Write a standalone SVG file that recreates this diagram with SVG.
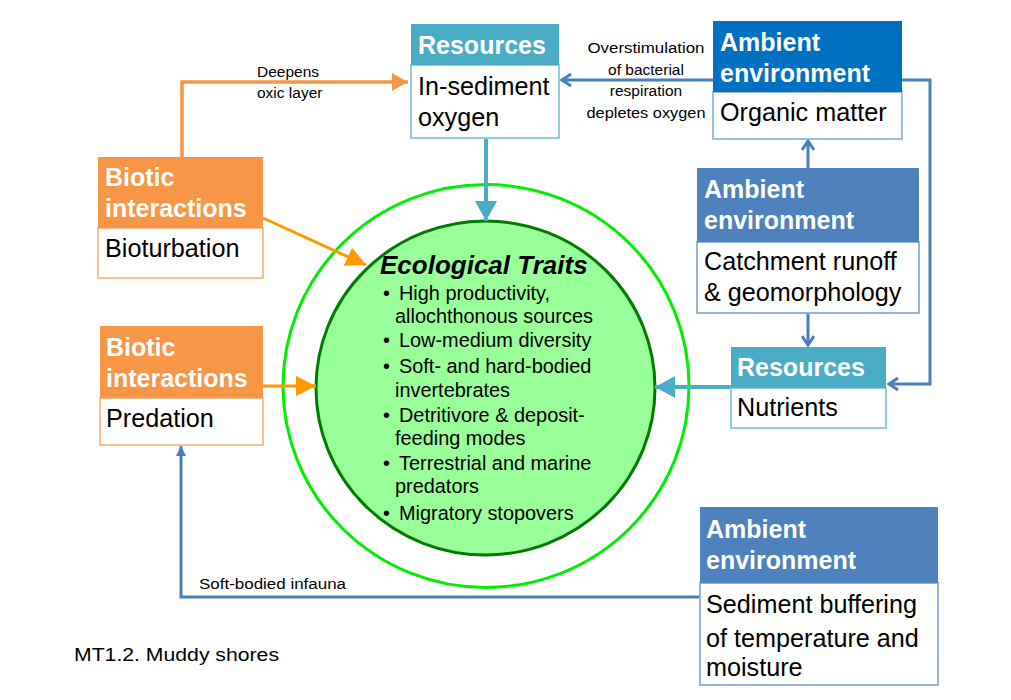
<svg xmlns="http://www.w3.org/2000/svg" width="1011" height="700" viewBox="0 0 1011 700">
<style>
.hd{font-family:"Liberation Sans",Arial,sans-serif;font-weight:bold;font-size:25px;fill:#fff}
.bd{font-family:"Liberation Sans",Arial,sans-serif;font-size:25.2px;fill:#000}
.lb{font-family:"Liberation Sans",Arial,sans-serif;font-size:15.5px;fill:#000}
.tr{font-family:"Liberation Sans",Arial,sans-serif;font-size:19.9px;fill:#000}
.blue{stroke:#4a7ebb;stroke-width:3;fill:none}
.or1{stroke:#f79646;stroke-width:3.5;fill:none}
.or2{stroke:#ff9900;stroke-width:3;fill:none}
.teal{stroke:#4bacc6;stroke-width:4;fill:none}
</style>
<defs>
<marker id="chev" markerWidth="12" markerHeight="14" refX="10" refY="7" orient="auto" markerUnits="userSpaceOnUse">
<path d="M1,1 L10,7 L1,13" fill="none" stroke="#4a7ebb" stroke-width="3"/>
</marker>
<marker id="triO1" markerWidth="16" markerHeight="18" refX="16" refY="9" orient="auto" markerUnits="userSpaceOnUse">
<path d="M0,0 L16,9 L0,18 Z" fill="#f79646"/>
</marker>
<marker id="triO2" markerWidth="20" markerHeight="20" refX="20" refY="10" orient="auto" markerUnits="userSpaceOnUse">
<path d="M0,0 L20,10 L0,20 Z" fill="#ff9900"/>
</marker>
<marker id="triT" markerWidth="20" markerHeight="22" refX="20" refY="11" orient="auto" markerUnits="userSpaceOnUse">
<path d="M0,0 L20,11 L0,22 Z" fill="#4bacc6"/>
</marker>
<marker id="triB" markerWidth="10" markerHeight="10" refX="10" refY="5" orient="auto" markerUnits="userSpaceOnUse">
<path d="M0,0 L10,5 L0,10 Z" fill="#4a7ebb"/>
</marker>
</defs>
<rect width="1011" height="700" fill="#fff"/>

<g id="circles">
<ellipse cx="486" cy="386" rx="203" ry="201.5" fill="none" stroke="#00ee00" stroke-width="3"/>
<ellipse cx="485.5" cy="388" rx="169.5" ry="167" fill="#99ff99" stroke="#007a00" stroke-width="3"/>
</g>

<g id="connectors">
<path class="or1" d="M182,157 V82 H408" marker-end="url(#triO1)"/>
<path class="or2" d="M263,218 L366,265" marker-end="url(#triO2)"/>
<path class="or2" d="M263,386 L316,386" marker-end="url(#triO2)"/>
<path class="blue" d="M713,80 L562,80" marker-end="url(#chev)"/>
<path class="blue" d="M902,80 H930 V384 H889" marker-end="url(#chev)"/>
<path class="blue" d="M808,168 V141" marker-end="url(#chev)"/>
<path class="blue" d="M808,313 V345" marker-end="url(#chev)"/>
<path class="teal" d="M486,138 V221" marker-end="url(#triT)"/>
<path class="teal" d="M731,387 H655" marker-end="url(#triT)"/>
<path class="blue" d="M700,597 H181 V446" marker-end="url(#triB)"/>
</g>

<g id="res-oxygen">
<rect x="411" y="65" width="148" height="73" fill="#fff" stroke="#93cddd" stroke-width="2"/>
<rect x="411" y="24" width="148" height="41" fill="#4bacc6"/>
<text class="hd" x="418" y="54">Resources</text>
<text class="bd" x="418" y="95">In-sediment</text>
<text class="bd" x="418" y="126">oxygen</text>
</g>

<g id="amb-organic">
<rect x="713" y="92" width="189" height="47" fill="#fff" stroke="#9bbfd9" stroke-width="2"/>
<rect x="713" y="21" width="189" height="71" fill="#0070c0"/>
<text class="hd" x="720" y="51">Ambient</text>
<text class="hd" x="720" y="82">environment</text>
<text class="bd" x="720" y="121">Organic matter</text>
</g>

<g id="bio-bioturbation">
<rect x="98" y="228" width="165" height="50" fill="#fff" stroke="#fac090" stroke-width="2"/>
<rect x="98" y="157" width="165" height="71" fill="#f79646"/>
<text class="hd" x="105" y="186">Biotic</text>
<text class="hd" x="105" y="217">interactions</text>
<text class="bd" x="105" y="257">Bioturbation</text>
</g>

<g id="amb-catchment">
<rect x="697" y="242" width="222" height="71" fill="#fff" stroke="#95b3d7" stroke-width="2"/>
<rect x="697" y="168" width="222" height="74" fill="#4f81bd"/>
<text class="hd" x="704" y="198">Ambient</text>
<text class="hd" x="704" y="229">environment</text>
<text class="bd" x="704" y="270">Catchment runoff</text>
<text class="bd" x="704" y="301">&amp; geomorphology</text>
</g>

<g id="res-nutrients">
<rect x="731" y="388" width="155" height="40" fill="#fff" stroke="#93cddd" stroke-width="2"/>
<rect x="731" y="347" width="155" height="41" fill="#4bacc6"/>
<text class="hd" x="737" y="376">Resources</text>
<text class="bd" x="737" y="416">Nutrients</text>
</g>

<g id="bio-predation">
<rect x="100" y="398" width="163" height="47" fill="#fff" stroke="#fac090" stroke-width="2"/>
<rect x="100" y="326" width="163" height="72" fill="#f79646"/>
<text class="hd" x="106" y="356">Biotic</text>
<text class="hd" x="106" y="387">interactions</text>
<text class="bd" x="106" y="427">Predation</text>
</g>

<g id="amb-sediment">
<rect x="700" y="583" width="238" height="102" fill="#fff" stroke="#95b3d7" stroke-width="2"/>
<rect x="700" y="507" width="238" height="76" fill="#4f81bd"/>
<text class="hd" x="706" y="538">Ambient</text>
<text class="hd" x="706" y="569">environment</text>
<text class="bd" x="706" y="613">Sediment buffering</text>
<text class="bd" x="706" y="647">of temperature and</text>
<text class="bd" x="706" y="676">moisture</text>
</g>

<g id="traits">
<text x="380" y="274" font-family="Liberation Sans, Arial, sans-serif" font-weight="bold" font-style="italic" font-size="26px" fill="#000">Ecological Traits</text>
<g class="tr">
<text x="383" y="300">•</text><text x="399" y="300">High productivity,</text>
<text x="395" y="323">allochthonous sources</text>
<text x="383" y="347">•</text><text x="399" y="347">Low-medium diversity</text>
<text x="383" y="373">•</text><text x="399" y="373">Soft- and hard-bodied</text>
<text x="395" y="397">invertebrates</text>
<text x="383" y="422">•</text><text x="399" y="422">Detritivore &amp; deposit-</text>
<text x="395" y="445">feeding modes</text>
<text x="383" y="470">•</text><text x="399" y="470">Terrestrial and marine</text>
<text x="395" y="493">predators</text>
<text x="383" y="520">•</text><text x="399" y="520">Migratory stopovers</text>
</g>
</g>

<g id="labels">
<text class="lb" x="646" y="53" text-anchor="middle" textLength="117" lengthAdjust="spacingAndGlyphs">Overstimulation</text>
<text class="lb" x="646" y="75" text-anchor="middle">of bacterial</text>
<text class="lb" x="646" y="96" text-anchor="middle">respiration</text>
<text class="lb" x="646" y="118" text-anchor="middle" textLength="119" lengthAdjust="spacingAndGlyphs">depletes oxygen</text>
<text class="lb" x="257" y="77">Deepens</text>
<text class="lb" x="257" y="98">oxic layer</text>
<text class="lb" x="199" y="589" textLength="147" lengthAdjust="spacingAndGlyphs">Soft-bodied  infauna</text>
<text x="74" y="661" font-family="Liberation Sans, Arial, sans-serif" font-size="19px" fill="#000" textLength="205" lengthAdjust="spacingAndGlyphs">MT1.2. Muddy shores</text>
</g>
</svg>
